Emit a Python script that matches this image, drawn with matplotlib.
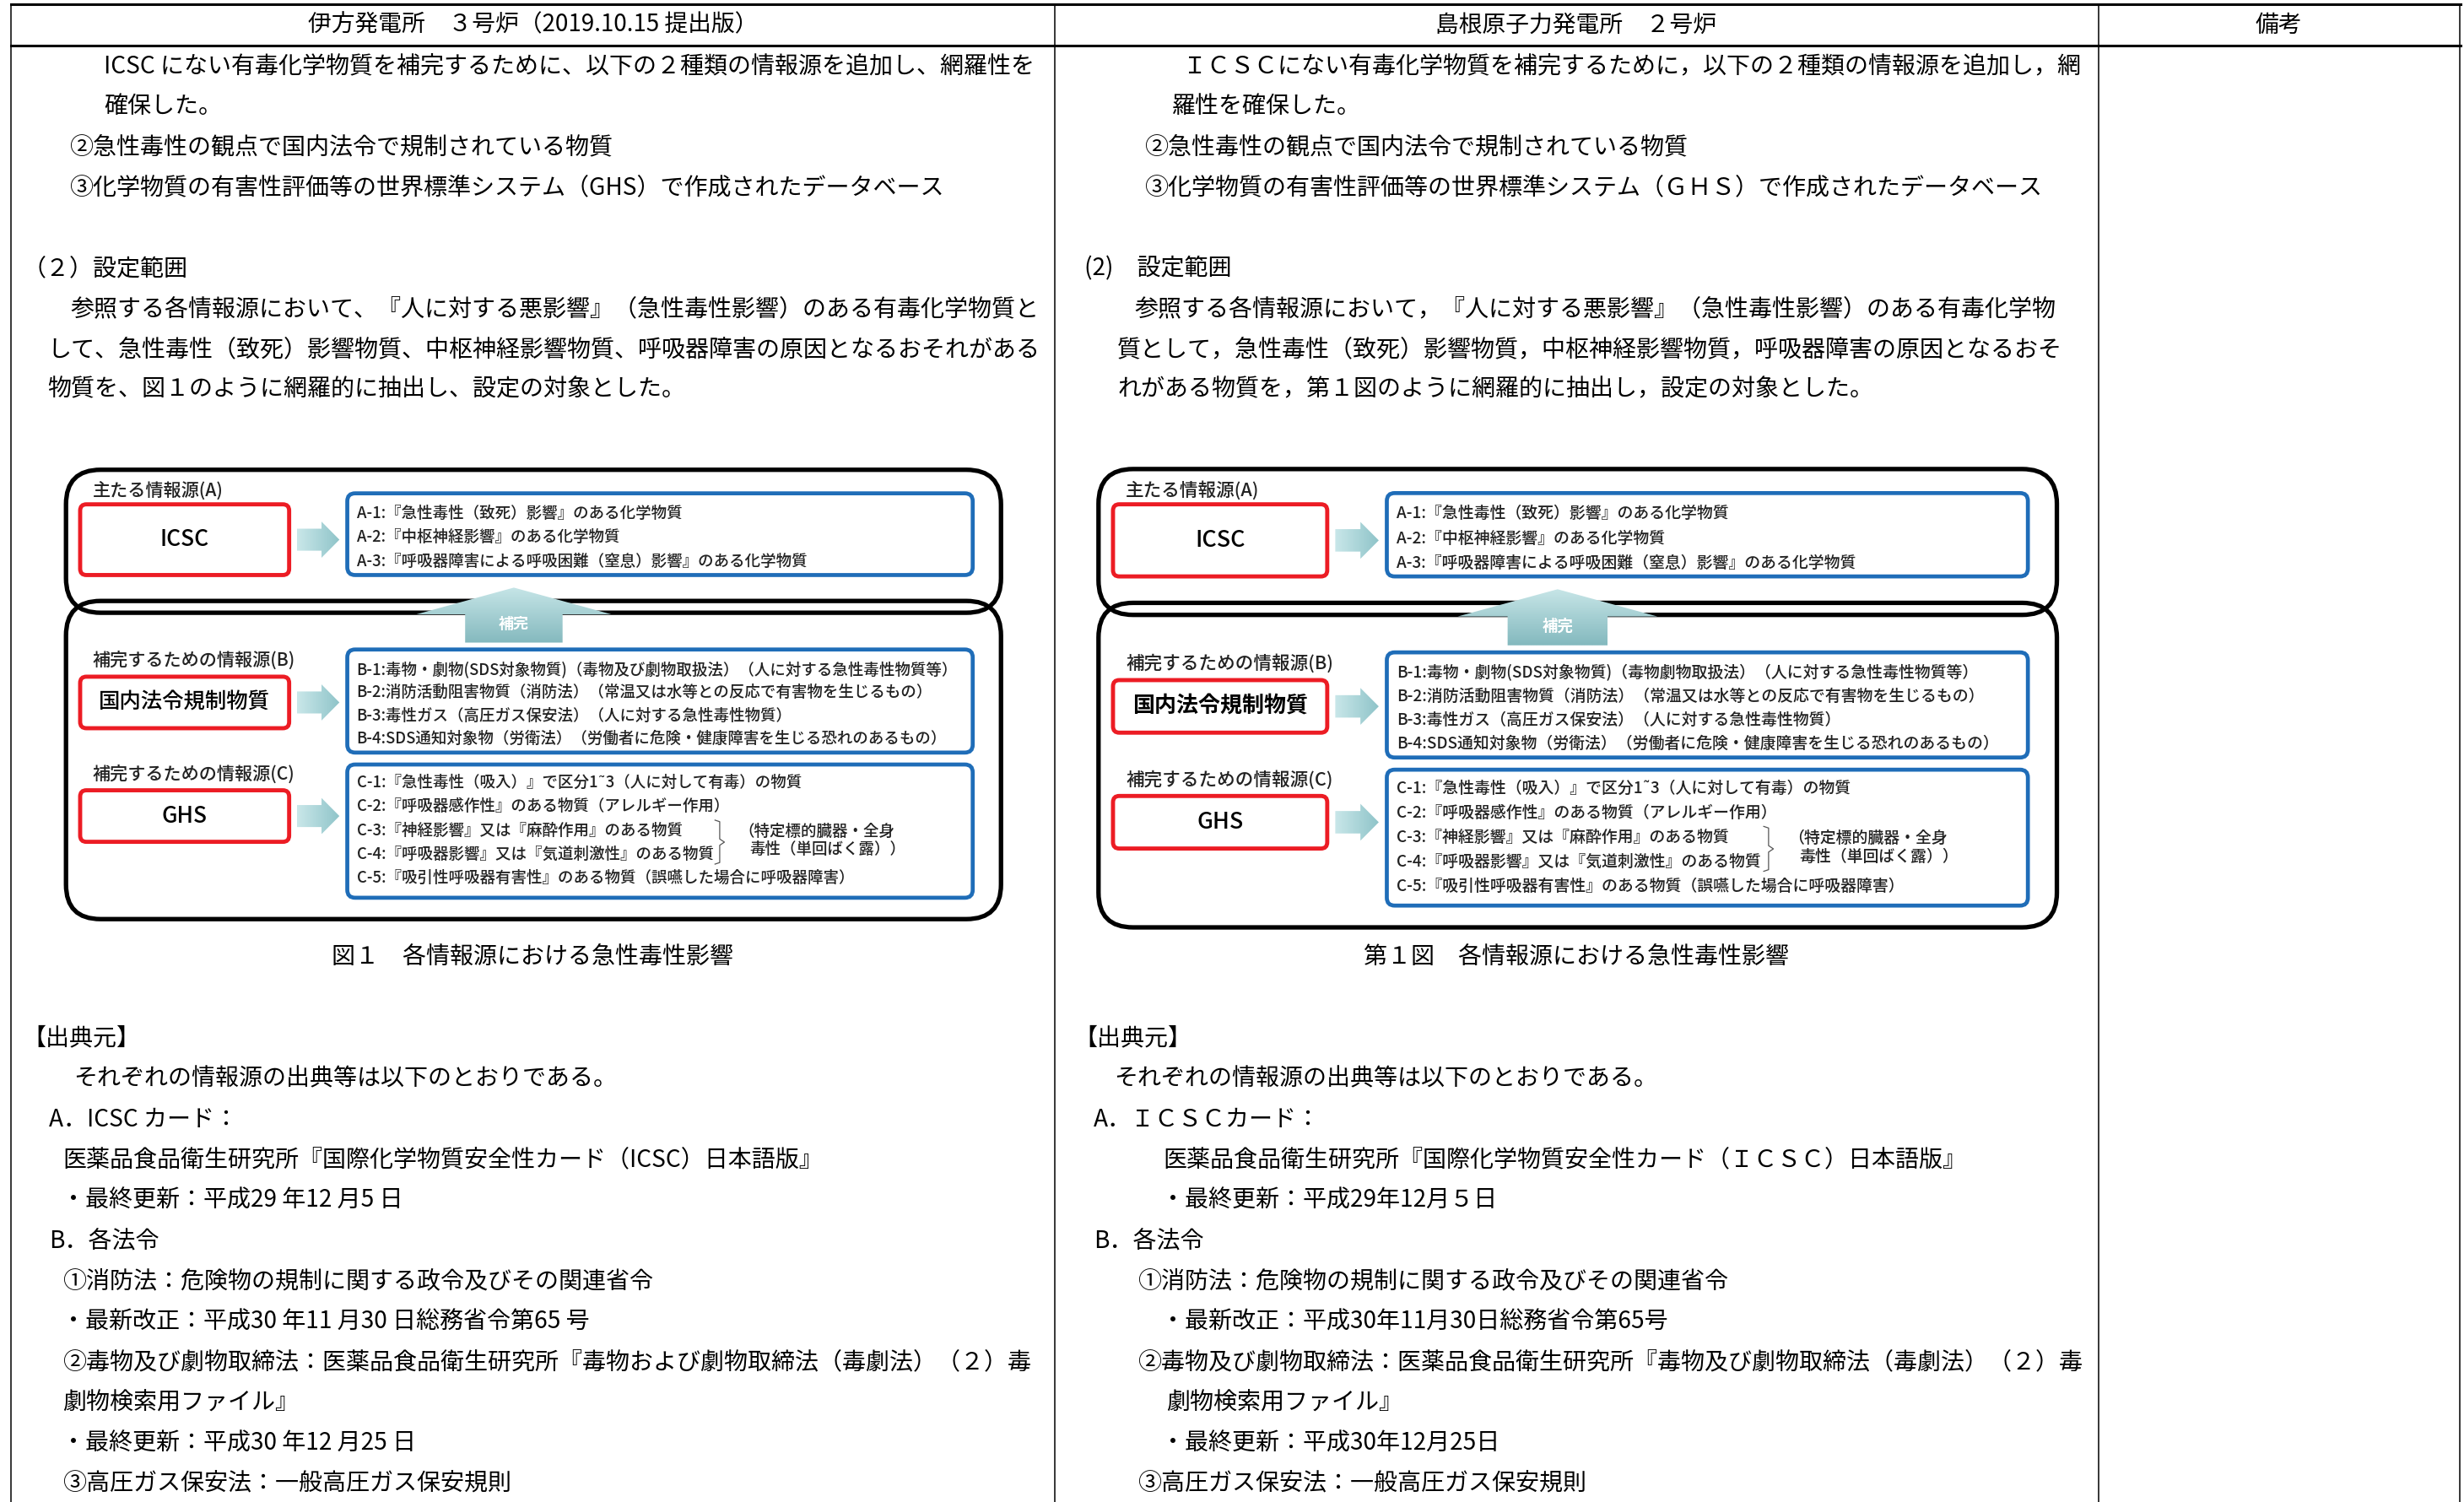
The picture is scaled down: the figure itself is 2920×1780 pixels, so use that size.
import numpy as np
import matplotlib
matplotlib.use("Agg")
import matplotlib.pyplot as plt
from matplotlib.patches import FancyBboxPatch, Polygon
from matplotlib.colors import to_rgb

plt.rcParams['font.family'] = ['Noto Sans CJK JP', 'DejaVu Sans']

# ---- texts ----
headers = ['伊方発電所　３号炉（2019.10.15 提出版）', '島根原子力発電所　２号炉', '備考']

left_top = [
    'ICSC にない有毒化学物質を補完するために、以下の２種類の情報源を追加し、網羅性を',
    '確保した。',
    '②急性毒性の観点で国内法令で規制されている物質',
    '③化学物質の有害性評価等の世界標準システム（GHS）で作成されたデータベース',
    '',
    '（２）設定範囲',
    '参照する各情報源において、『人に対する悪影響』（急性毒性影響）のある有毒化学物質と',
    'して、急性毒性（致死）影響物質、中枢神経影響物質、呼吸器障害の原因となるおそれがある',
    '物質を、図１のように網羅的に抽出し、設定の対象とした。',
]
left_top_x = [66, 66, 44, 44, 0, 14, 45, 30, 30]

right_top = [
    'ＩＣＳＣにない有毒化学物質を補完するために，以下の２種類の情報源を追加し，網',
    '羅性を確保した。',
    '②急性毒性の観点で国内法令で規制されている物質',
    '③化学物質の有害性評価等の世界標準システム（ＧＨＳ）で作成されたデータベース',
    '',
    '(2)　設定範囲',
    '参照する各情報源において，『人に対する悪影響』（急性毒性影響）のある有毒化学物',
    '質として，急性毒性（致死）影響物質，中枢神経影響物質，呼吸器障害の原因となるおそ',
    'れがある物質を，第１図のように網羅的に抽出し，設定の対象とした。',
]
right_top_x = [753, 746, 728, 728, 0, 690, 722, 711, 711]

left_bot = [
    '【出典元】',
    'それぞれの情報源の出典等は以下のとおりである。',
    'A．ICSC カード：',
    '医薬品食品衛生研究所『国際化学物質安全性カード（ICSC）日本語版』',
    '・最終更新：平成29 年12 月5 日',
    'B．各法令',
    '①消防法：危険物の規制に関する政令及びその関連省令',
    '・最新改正：平成30 年11 月30 日総務省令第65 号',
    '②毒物及び劇物取締法：医薬品食品衛生研究所『毒物および劇物取締法（毒劇法）（２）毒',
    '劇物検索用ファイル』',
    '・最終更新：平成30 年12 月25 日',
    '③高圧ガス保安法：一般高圧ガス保安規則',
]
left_bot_x = [14, 47, 31, 40, 39, 31, 40, 39, 40, 40, 39, 40]

right_bot = [
    '【出典元】',
    'それぞれの情報源の出典等は以下のとおりである。',
    'A．ＩＣＳＣカード：',
    '医薬品食品衛生研究所『国際化学物質安全性カード（ＩＣＳＣ）日本語版』',
    '・最終更新：平成29年12月５日',
    'B．各法令',
    '①消防法：危険物の規制に関する政令及びその関連省令',
    '・最新改正：平成30年11月30日総務省令第65号',
    '②毒物及び劇物取締法：医薬品食品衛生研究所『毒物及び劇物取締法（毒劇法）（２）毒',
    '劇物検索用ファイル』',
    '・最終更新：平成30年12月25日',
    '③高圧ガス保安法：一般高圧ガス保安規則',
]
right_bot_x = [683, 709, 696, 740, 739, 696, 724, 739, 724, 742, 739, 724]

captions = ['図１　各情報源における急性毒性影響', '第１図　各情報源における急性毒性影響']

# ---- diagram texts ----
source_labels = ['主たる情報源(A)', '補完するための情報源(B)', '補完するための情報源(C)']
source_names = ['ICSC', '国内法令規制物質', 'GHS']
a_lines = [
    'A-1:『急性毒性（致死）影響』のある化学物質',
    'A-2:『中枢神経影響』のある化学物質',
    'A-3:『呼吸器障害による呼吸困難（窒息）影響』のある化学物質',
]
b_lines_left = [
    'B-1:毒物・劇物(SDS対象物質)（毒物及び劇物取扱法）（人に対する急性毒性物質等）',
    'B-2:消防活動阻害物質（消防法）（常温又は水等との反応で有害物を生じるもの）',
    'B-3:毒性ガス（高圧ガス保安法）（人に対する急性毒性物質）',
    'B-4:SDS通知対象物（労衛法）（労働者に危険・健康障害を生じる恐れのあるもの）',
]
b_lines_right = [
    'B-1:毒物・劇物(SDS対象物質)（毒物劇物取扱法）（人に対する急性毒性物質等）',
    'B-2:消防活動阻害物質（消防法）（常温又は水等との反応で有害物を生じるもの）',
    'B-3:毒性ガス（高圧ガス保安法）（人に対する急性毒性物質）',
    'B-4:SDS通知対象物（労衛法）（労働者に危険・健康障害を生じる恐れのあるもの）',
]
c_lines = [
    'C-1:『急性毒性（吸入）』で区分1˜3（人に対して有毒）の物質',
    'C-2:『呼吸器感作性』のある物質（アレルギー作用）',
    'C-3:『神経影響』又は『麻酔作用』のある物質',
    'C-4:『呼吸器影響』又は『気道刺激性』のある物質',
    'C-5:『吸引性呼吸器有害性』のある物質（誤嚥した場合に呼吸器障害）',
]
note_lines = ['（特定標的臓器・全身', '毒性（単回ばく露））']
arrow_text = '補完'

RED = '#ec1c24'
BLUE = '#1f6db8'
BODY_FS = 20.2

fig = plt.figure(figsize=(29.2, 17.8), dpi=100)
ax = fig.add_axes([0, 0, 1, 1])


def gradient_poly(pts, c_start, c_end, horizontal=False, z=4):
    poly = Polygon(pts, closed=True, facecolor='none', edgecolor='none', zorder=z)
    ax.add_patch(poly)
    xs = [p[0] for p in pts]
    ys = [p[1] for p in pts]
    c0 = np.array(to_rgb(c_start))
    c1 = np.array(to_rgb(c_end))
    t = np.linspace(0, 1, 64)
    cols = c0 + (c1 - c0) * t[:, None]
    img = cols[None, :, :] if horizontal else cols[:, None, :]
    im = ax.imshow(img, extent=[min(xs), max(xs), max(ys), min(ys)], origin='upper',
                   aspect='auto', zorder=z, interpolation='bilinear')
    im.set_clip_path(poly)


def draw_diagram(ox, oy, kx, ky, b_lines, bold_b):
    X = lambda x: ox + x * kx
    Y = lambda y: oy + y * ky
    fk = (kx + ky) / 2

    def rbox(x0, y0, x1, y1, ec, lw, r, z):
        ax.add_patch(FancyBboxPatch((X(x0), Y(y0)), X(x1) - X(x0), Y(y1) - Y(y0),
                                    boxstyle=f'round,pad=0,rounding_size={r}',
                                    ec=ec, fc='white' if z > 2 else 'none', lw=lw, zorder=z))

    # outer black frames
    rbox(2, 2, 597, 93, 'black', 3.8, 22, 2)
    rbox(2, 85.5, 597, 288, 'black', 3.8, 22, 2)

    rows = [
        (15.5, (24, 69), (17, 69), 29.6, 15.4, a_lines),
        (123.5, (133.7, 166.5), (116.4, 182), 128.9, 14.8, b_lines),
        (196, (206, 238.8), (189.6, 274.4), 201.2, 15.2, c_lines),
    ]
    for i, (ly, red, blue, l0, step, lines) in enumerate(rows):
        ax.text(X(19), Y(ly), source_labels[i], fontsize=15.2 * fk, ha='left', va='center',
                fontweight='medium', color='#222222', zorder=5)
        rbox(11, red[0], 144, red[1], RED, 3.5, 4, 3)
        w = 'bold' if (i == 1 and bold_b) else 'medium'
        fs = 18.3 if i == 1 else 19
        ax.text(X(77.5), Y((red[0] + red[1]) / 2), source_names[i], fontsize=fs * fk,
                ha='center', va='center', fontweight=w, zorder=5)
        rbox(181, blue[0], 579, blue[1], BLUE, 3.4, 5, 3)
        for j, s in enumerate(lines):
            ax.text(X(187), Y(l0 + j * step), s, fontsize=13.3 * fk, ha='left', va='center',
                    fontweight='medium', color='#222222', zorder=5)
        cy = (red[0] + red[1]) / 2
        pts = [(X(149), Y(cy - 7)), (X(164.6), Y(cy - 7)), (X(164.6), Y(cy - 11.5)), (X(176), Y(cy)),
               (X(164.6), Y(cy + 11.5)), (X(164.6), Y(cy + 7)), (X(149), Y(cy + 7))]
        gradient_poly(pts, '#c9e7e9', '#8fc4c9', horizontal=True)

    # bracket and note for C-3/C-4
    ax.plot([X(415), X(418), X(418), X(421), X(418), X(418), X(415)],
            [Y(225), Y(226), Y(237), Y(239), Y(241), Y(252), Y(253)], color='#555555', lw=0.9, zorder=5)
    ax.text(X(430), Y(232), note_lines[0], fontsize=13.3 * fk, ha='left', va='center',
            fontweight='medium', color='#222222', zorder=5)
    ax.text(X(437), Y(243.6), note_lines[1], fontsize=13.3 * fk, ha='left', va='center',
            fontweight='medium', color='#222222', zorder=5)

    # up arrow
    cx = 287
    pts = [(X(cx - 31), Y(112)), (X(cx - 31), Y(94)), (X(cx - 62), Y(94)), (X(cx), Y(77)),
           (X(cx + 62), Y(94)), (X(cx + 31), Y(94)), (X(cx + 31), Y(112))]
    gradient_poly(pts, '#c6e5e7', '#84b9be', z=6)
    ax.text(X(cx), Y(100), arrow_text, fontsize=13 * fk, color='white', fontweight='bold',
            ha='center', va='center', zorder=7)


# ---- table frame ----
line_h = 25.75
ax.plot([7, 1566], [2.5, 2.5], color='black', lw=2.2)
ax.plot([7, 1566], [29, 29], color='black', lw=2.2)
for xv in [7, 671, 1335.5, 1565.5]:
    ax.plot([xv, xv], [2.5, 960], color='black', lw=1.1)

for xc, h in zip([339, 1003, 1450], headers):
    ax.text(xc, 16, h, fontsize=20, ha='center', va='center')

for lines, xs in [(left_top, left_top_x), (right_top, right_top_x)]:
    for i, (s, x) in enumerate(zip(lines, xs)):
        if s:
            ax.text(x, 42 + i * line_h, s, fontsize=BODY_FS, ha='left', va='center')

for lines, xs in [(left_bot, left_bot_x), (right_bot, right_bot_x)]:
    for i, (s, x) in enumerate(zip(lines, xs)):
        ax.text(x, 661 + i * line_h, s, fontsize=BODY_FS, ha='left', va='center')

ax.text(339, 609, captions[0], fontsize=BODY_FS, ha='center', va='center')
ax.text(1003, 609, captions[1], fontsize=BODY_FS, ha='center', va='center')

draw_diagram(40, 297, 1.0, 1.0, b_lines_left, False)
draw_diagram(697, 296.5, 1.025, 1.02, b_lines_right, True)

ax.set_xlim(0, 1568)
ax.set_ylim(956, 0)
ax.axis('off')

fig.savefig('out.png', dpi=100, facecolor='white')
